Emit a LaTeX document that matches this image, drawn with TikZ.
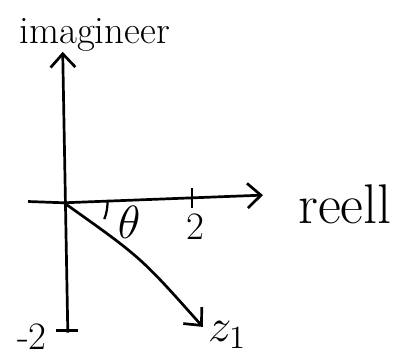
\documentclass[tikz,border=0pt]{standalone}
\usepackage{amsmath}
\usepackage{tikz}
\usetikzlibrary{arrows.meta}
\usetikzlibrary{positioning}

\begin{document}
\begin{tikzpicture}[line width=1.2pt,>={Straight Barb[length=6pt,width=11pt]},
  lbl/.style={inner sep=1pt,font=\LARGE}]
\useasboundingbox (-1,-2.5) rectangle (5.19,3.17);
% axes
\coordinate (O) at (0,0);
\coordinate (xl) at (-0.56,0.02);
\coordinate (xr) at (3.11,0.12);
\coordinate (yb) at (0.06,-2.03);
\coordinate (yt) at (-0.02,2.36);
\draw (xl) -- (O);
\draw[->] (O) -- (xr);
\draw[->] (yb) -- (yt);
% ticks
\coordinate (t2) at (2,0.06);
\coordinate (tm2) at (0.05,-2);
\draw ([yshift=-4pt]t2) -- ([yshift=5pt]t2);
\draw ([xshift=-5pt]tm2) -- ([xshift=5pt]tm2);
\node[lbl] (l2) at (2.05,-0.38) {2};
\node[lbl] (lm2) at (-0.5,-2.1) {-2};
% vector z1
\coordinate (z) at (2.17,-1.94);
\draw[->] (O) .. controls (1.2,-0.85) .. (z);
\node[lbl,font=\huge] (lz) at (2.55,-2.06) {$z_1$};
% angle
\draw[line width=1pt] (4:0.68) arc (4:-22:0.68);
\node[lbl,font=\huge] (lth) at (1.02,-0.3) {$\theta$};
% axis labels
\node[lbl,font=\Huge] (re) at (4.39,-0.03) {reell};
\node[lbl] (im) at (0.48,2.62) {imagineer};
\end{tikzpicture}
\end{document}
